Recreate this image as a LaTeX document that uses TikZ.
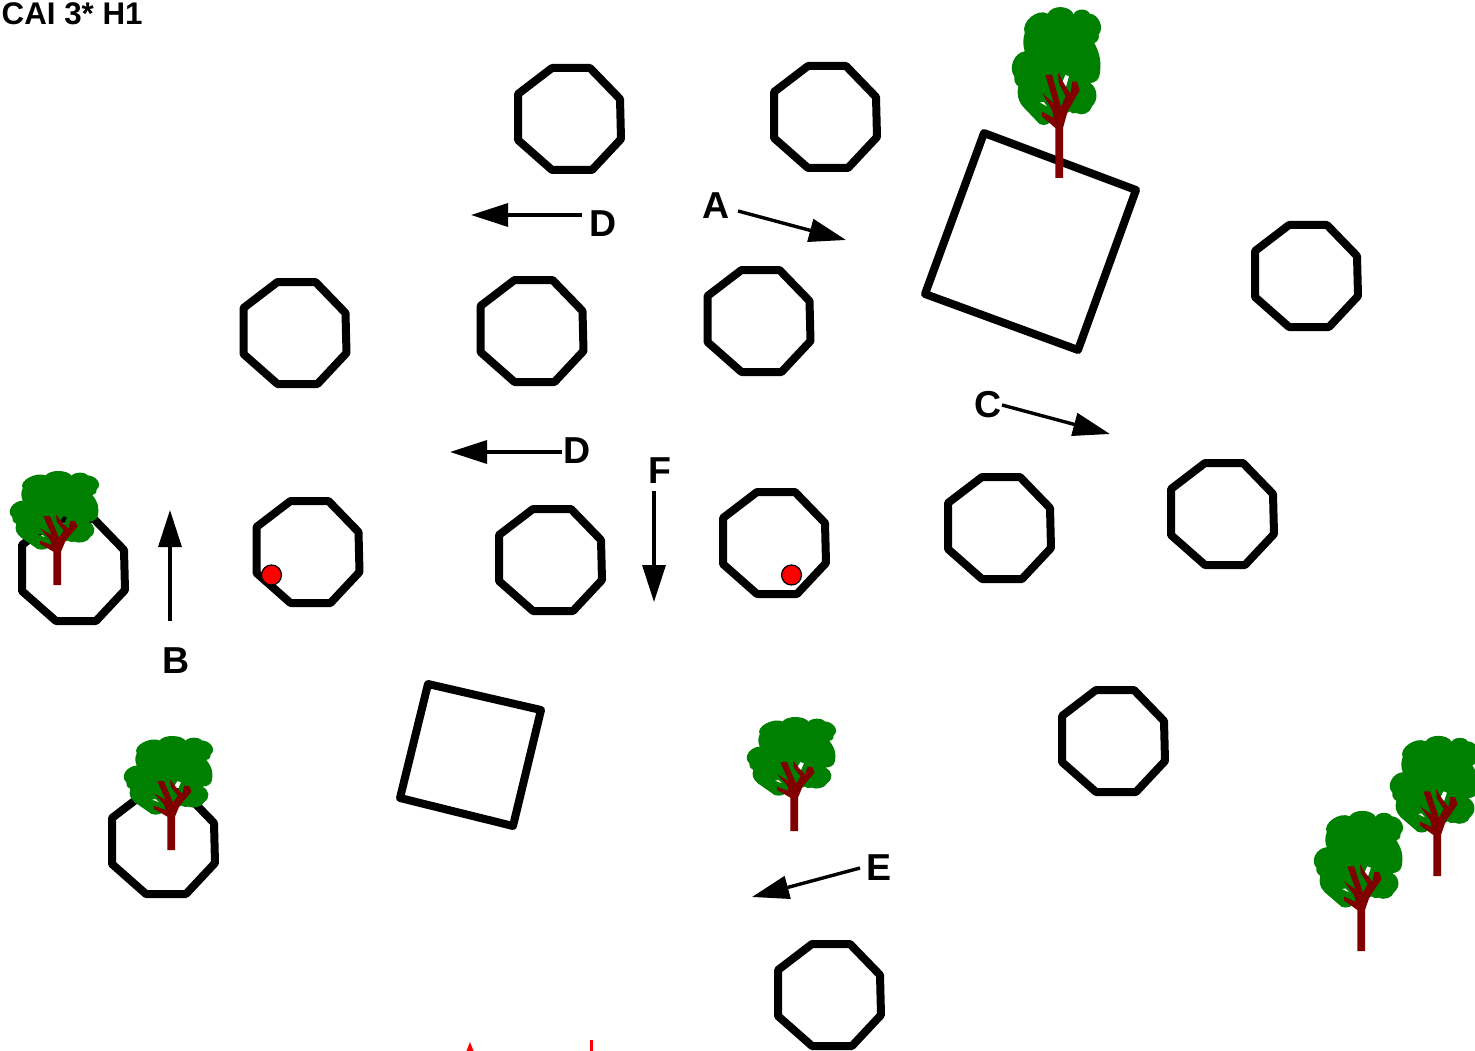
\documentclass[tikz,border=0pt]{standalone}
\usepackage{fontspec}
\setmainfont{Liberation Sans}
\usetikzlibrary{arrows.meta}
\definecolor{leaf}{RGB}{0,128,0}
\definecolor{bark}{RGB}{128,0,0}
\tikzset{
  x=1pt,y=-1pt,
  outline/.style={draw=black,line width=8pt,line join=round},
  flow/.style={draw=black,line width=3.4pt,-{Triangle[length=37pt,width=23pt]}},
  lab/.style={font=\bfseries\fontsize{37.5}{38}\selectfont,inner sep=0pt,text=black},
  dotmark/.style={circle,fill=red,draw=black,line width=1.2pt,minimum size=20pt,inner sep=0pt},
  pics/octa/.style={code={\draw[outline] (-17,-51)--(21,-51)--(51,-20)--(52,20)--(23,51)--(-17,51)--(-51,21)--(-51,-25)--cycle;}},
  pics/treepic/.style={code={
    \begin{scope}[yscale=#1,x=0.3333pt,y=-0.3333pt,shift={(-206,-535)}]
    \fill[leaf,even odd rule] (103,100)
      to[bend left=70] (172,42) to[bend left=65] (250,44) to[bend left=70] (298,42)
      to[bend left=65] (325,105) to[bend left=40] (312,130) to[bend left=18] (328,225)
      to[bend left=40] (300,250) to[bend left=50] (305,320) to[bend left=55] (258,340)
      to[bend left=40] (238,335) -- (215,350) -- (180,365) to[bend left=70] (140,365)
      -- (97,320) to[bend left=25] (84,260) to[bend left=30] (72,230)
      to[bend left=60] (103,155) to[bend left=15] (103,100) -- cycle
      (148,308)--(172,322)--(160,306)--cycle
      (225,225)--(214,252)--(226,266)--(236,230)--cycle;
    \fill[bark] (195,535)--(218,535)--(218,385)--(232,335)--(268,272)--(260,246)--(246,246)--(240,282)--(220,250)--(203,218)--(205,250)--(226,290)--(212,322)--(185,225)--(165,226)--(190,310)--(155,280)--(185,330)--(190,355)--(155,336)--(155,350)--(195,385)--cycle;
    \end{scope}
  }}
}
\begin{document}
\begin{tikzpicture}
\useasboundingbox (0,0) rectangle (1475,1051);
\clip (0,0) rectangle (1475,1051);
\fill[white] (0,0) rectangle (1475,1051);
% octagons
\foreach \n/\cx/\cy in {1/569/119,2/825/117,3/1306/276,4/294.5/333,5/531.5/331,6/758.5/321,7/73/570,8/307.5/552,9/550/560,10/774/543,11/999/528,12/1222/514,13/1113/741,14/163/843,15/829/995}
  \pic (oct\n) at (\cx,\cy) {octa};
% squares
\draw[outline] (984,133)--(1136,190)--(1078,350)--(925,294)--cycle;
\draw[outline] (428,684)--(541,710)--(513,826)--(400,798)--cycle;
% trees
\foreach \n/\cx/\cy/\s in {1/1059/178/1,2/57/585/0.667,3/171/850/0.667,4/794/831/0.667,5/1437/876/0.82,6/1361/951/0.82}
  \pic (tree\n) at (\cx,\cy) {treepic=\s};
% red dots
\node[dotmark] (dot1) at (271.5,575) {};
\node[dotmark] (dot2) at (791.5,575) {};
% labels
\node[inner sep=0pt,anchor=base west,font=\bfseries\fontsize{31.3}{32}\selectfont] (title) at (1.5,25) {CAI 3* H1};
\node[lab] (la) at (716.5,205.5) {A};
\node[lab] (lb) at (176,661) {B};
\node[lab] (lc) at (988.5,405) {C};
\node[lab] (ld1) at (603.5,224) {D};
\node[lab] (ld2) at (577,451) {D};
\node[lab] (le) at (879,867.5) {E};
\node[lab] (lf) at (660,470.5) {F};
% arrows
\coordinate (a0) at (738,211); \coordinate (a1) at (846,240);
\coordinate (b0) at (170,621); \coordinate (b1) at (170,510);
\coordinate (c0) at (1002,405); \coordinate (c1) at (1110,434);
\coordinate (d0) at (582,215); \coordinate (d1) at (471,215);
\coordinate (g0) at (562,452); \coordinate (g1) at (450,452);
\coordinate (e0) at (860,868); \coordinate (e1) at (752,897);
\coordinate (f0) at (654,491); \coordinate (f1) at (654,602);
\draw[flow] (a0)--(a1);
\draw[flow] (b0)--(b1);
\draw[flow] (c0)--(c1);
\draw[flow] (d0)--(d1);
\draw[flow] (g0)--(g1);
\draw[flow] (e0)--(e1);
\draw[flow] (f0)--(f1);
% red fragments at the bottom edge
\fill[red] (466.5,1051)--(470,1042)--(473.5,1051)--cycle;
\fill[red] (589.5,1051)--(589.5,1040)--(593,1040)--(593,1051)--cycle;
\end{tikzpicture}
\end{document}
